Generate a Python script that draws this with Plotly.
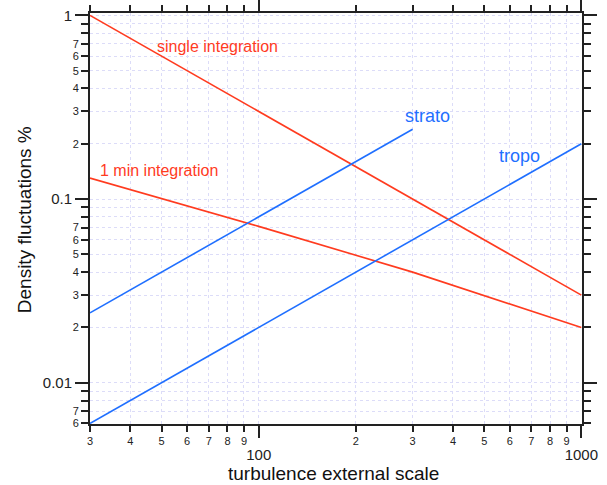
import numpy as np
import plotly.graph_objects as go

# ---- data ----
single_x = [30, 1000]
single_y = [1.0, 0.03]
min1_x = [30, 100, 300, 1000]
min1_y = [0.13, 0.071, 0.04, 0.02]
strato_x = [30, 300]
strato_y = [0.024, 0.24]
tropo_x = [30, 1000]
tropo_y = [0.006, 0.2]

x_minor_vals = [30, 40, 50, 60, 70, 80, 90, 200, 300, 400, 500, 600, 700, 800, 900]
x_minor_text = ['3', '4', '5', '6', '7', '8', '9', '2', '3', '4', '5', '6', '7', '8', '9']
x_major_vals = [100, 1000]
x_major_text = ['100', '1000']

y_minor_vals = [0.006, 0.007, 0.008, 0.009,
                0.02, 0.03, 0.04, 0.05, 0.06, 0.07, 0.08, 0.09,
                0.2, 0.3, 0.4, 0.5, 0.6, 0.7, 0.8, 0.9]
y_minor_text = ['6', '7', '', '',
                '2', '3', '4', '5', '6', '7', '', '',
                '2', '3', '4', '5', '6', '7', '', '']
y_major_vals = [0.01, 0.1, 1]
y_major_text = ['0.01', '0.1', '1']

labels = [
    ("single integration", 47.6, 0.68, 'red'),
    ("1 min integration", 31.7, 0.143, 'red'),
    ("strato", 280, 0.284, 'blue'),
    ("tropo", 549, 0.172, 'blue'),
]

RED = '#ff3b1f'
BLUE = '#1f6fff'
FONT = 'Liberation Sans, Arial, sans-serif'
GRID = '#dcdcf8'

xr = [np.log10(30), np.log10(1000) + 0.002]
yr = [np.log10(0.006) - 0.003, np.log10(1.0) + 0.013]

fig = go.Figure()
fig.add_trace(go.Scatter(x=single_x, y=single_y, mode='lines', line=dict(color=RED, width=1.6)))
fig.add_trace(go.Scatter(x=min1_x, y=min1_y, mode='lines', line=dict(color=RED, width=1.6)))
fig.add_trace(go.Scatter(x=strato_x, y=strato_y, mode='lines', line=dict(color=BLUE, width=1.6)))
fig.add_trace(go.Scatter(x=tropo_x, y=tropo_y, mode='lines', line=dict(color=BLUE, width=1.6)))
# invisible trace to anchor overlay axes
fig.add_trace(go.Scatter(x=[100], y=[0.1], xaxis='x2', yaxis='y2', mode='markers',
                         marker=dict(opacity=0), hoverinfo='skip'))

for text, xv, yv, c in labels:
    fig.add_annotation(x=np.log10(xv), y=np.log10(yv), xref='x', yref='y', text=text,
                       showarrow=False, xanchor='left', yanchor='middle',
                       font=dict(family=FONT, size=16 if c == 'red' else 18,
                                 color=RED if c == 'red' else BLUE))

fig.add_annotation(x=0.494, y=-0.12, xref='paper', yref='paper', text='turbulence external scale',
                   showarrow=False, xanchor='center', yanchor='middle',
                   font=dict(family=FONT, size=19, color='#111'))
fig.add_annotation(x=-0.134, y=0.496, xref='paper', yref='paper', text='Density fluctuations %',
                   showarrow=False, xanchor='center', yanchor='middle', textangle=-90,
                   font=dict(family=FONT, size=19, color='#111'))

common_line = dict(showline=True, linecolor='#222222', linewidth=2, ticks='outside',
                   tickcolor='#222222', tickwidth=1.5, mirror='ticks', zeroline=False,
                   automargin=False)

fig.update_layout(
    width=607, height=485,
    margin=dict(l=90, r=25, t=13, b=61, autoexpand=False),
    paper_bgcolor='white', plot_bgcolor='white',
    showlegend=False,
    xaxis=dict(type='log', range=xr, tickmode='array',
               tickvals=x_minor_vals + x_major_vals,
               ticktext=x_minor_text + ['', ''],
               ticklen=6, tickfont=dict(family=FONT, size=11, color='#222'),
               showgrid=True, gridcolor=GRID, griddash='dot', gridwidth=1,
               **common_line),
    xaxis2=dict(type='log', range=xr, overlaying='x', side='bottom', anchor='y2',
                tickmode='array', tickvals=x_major_vals, ticktext=x_major_text,
                ticklen=12, tickfont=dict(family=FONT, size=15, color='#222'),
                showgrid=False, ticklabelstandoff=4, **common_line),
    yaxis=dict(type='log', range=yr, tickmode='array',
               tickvals=y_minor_vals + y_major_vals,
               ticktext=y_minor_text + ['', '', ''],
               ticklen=7, tickfont=dict(family=FONT, size=11, color='#222'),
               showgrid=True, gridcolor=GRID, griddash='dot', gridwidth=1,
               **common_line),
    yaxis2=dict(type='log', range=yr, overlaying='y', side='left', anchor='x2',
                tickmode='array', tickvals=y_major_vals, ticktext=y_major_text,
                ticklen=13, tickfont=dict(family=FONT, size=15, color='#222'),
                showgrid=False, **common_line),
)

fig.write_html("out.html", config={'displayModeBar': False},
               post_script="document.body.style.margin='0';")
